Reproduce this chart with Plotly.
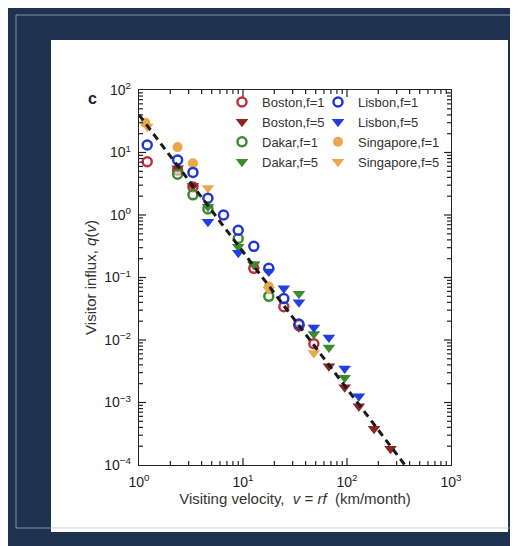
import plotly.graph_objects as go

# ---------------- data ----------------
boston_f1_v = [1.2, 2.35, 3.3, 12.7, 24.7, 34.5, 48]
boston_f1_q = [7.1, 5.2, 2.8, 0.14, 0.034, 0.017, 0.0087]

boston_f5_v = [2.35, 3.3, 12.7, 34.5, 67, 95, 130, 182, 262]
boston_f5_q = [5.6, 2.9, 0.16, 0.016, 0.0038, 0.00175, 0.00087, 0.00038, 0.000182]

dakar_f1_v = [2.35, 3.3, 4.6, 9.0, 17.7]
dakar_f1_q = [4.5, 2.1, 1.25, 0.42, 0.05]

dakar_f5_v = [4.6, 9.0, 12.7, 34.5, 48, 67, 95]
dakar_f5_q = [1.35, 0.31, 0.165, 0.055, 0.0125, 0.0076, 0.0025]

lisbon_f1_v = [1.2, 2.35, 3.3, 4.6, 6.5, 9.0, 12.7, 17.7, 24.7, 34.5]
lisbon_f1_q = [13.2, 7.6, 4.8, 1.85, 1.0, 0.57, 0.315, 0.14, 0.046, 0.018]

lisbon_f5_v = [4.6, 9.0, 17.7, 24.7, 34.5, 48, 67, 95, 130]
lisbon_f5_q = [0.78, 0.25, 0.125, 0.067, 0.04, 0.0158, 0.011, 0.0035, 0.00126]

singapore_f1_v = [1.15, 2.35, 3.3, 17.7]
singapore_f1_q = [30, 12.2, 6.7, 0.072]

singapore_f5_v = [1.2, 4.6, 17.7, 48]
singapore_f5_q = [26, 2.7, 0.064, 0.0062]

fit_v = [1.0, 360]
fit_q = [40, 1e-4]

x_tickvals = [1, 10, 100, 1000]
x_ticktext = ["10<sup>0</sup>", "10<sup>1</sup>", "10<sup>2</sup>", "10<sup>3</sup>"]
y_tickvals = [1e-4, 1e-3, 1e-2, 1e-1, 1, 10, 100]
y_ticktext = ["10<sup>−4</sup>", "10<sup>−3</sup>", "10<sup>−2</sup>", "10<sup>−1</sup>",
              "10<sup>0</sup>", "10<sup>1</sup>", "10<sup>2</sup>"]
x_minor = [m * 10 ** e for e in range(0, 3) for m in range(2, 10)]
y_minor = [m * 10.0 ** e for e in range(-4, 2) for m in range(2, 10)]

x_range_log = [0, 3]
y_range_log = [-4, 2]

# ---------------- styling ----------------
FONT = "Liberation Sans"
NAVY = "#1f3350"
RED, DRED = "#c0303c", "#8e2424"
BLUE, BLUE_T = "#2236d0", "#1f3fe0"
GREEN = "#3d8b2f"
ORANGE = "#e9a84c"
AX = "#222222"

fig = go.Figure()


def ring(v, q, name, col, legend, rank):
    fig.add_trace(go.Scatter(
        x=v, y=q, mode="markers", name=name, legend=legend, legendrank=rank,
        legendgroup=name,
        marker=dict(symbol="circle", size=9, color="rgba(255,255,255,0.55)",
                    line=dict(color=col, width=2.5))))


def filled(v, q, name, col, legend, rank):
    fig.add_trace(go.Scatter(
        x=v, y=q, mode="markers", name=name, legend=legend, legendrank=rank,
        legendgroup=name,
        marker=dict(symbol="circle", size=10, color=col, line=dict(width=0))))


def tri(v, q, name, col, legend, rank):
    fig.add_trace(go.Scatter(
        x=v, y=q, mode="markers", name=name, legend=legend, legendrank=rank,
        legendgroup=name,
        marker=dict(symbol="triangle-down", size=11, color=col, line=dict(width=0))))


ring(boston_f1_v, boston_f1_q, "Boston,f=1", RED, "legend", 1)
tri(boston_f5_v, boston_f5_q, "Boston,f=5", DRED, "legend", 2)
ring(dakar_f1_v, dakar_f1_q, "Dakar,f=1", GREEN, "legend", 3)
tri(dakar_f5_v, dakar_f5_q, "Dakar,f=5", GREEN, "legend", 4)
filled(singapore_f1_v, singapore_f1_q, "Singapore,f=1", ORANGE, "legend2", 3)
tri(singapore_f5_v, singapore_f5_q, "Singapore,f=5", ORANGE, "legend2", 4)
ring(lisbon_f1_v, lisbon_f1_q, "Lisbon,f=1", BLUE, "legend2", 1)
tri(lisbon_f5_v, lisbon_f5_q, "Lisbon,f=5", BLUE_T, "legend2", 2)

fig.add_trace(go.Scatter(x=fit_v, y=fit_q, mode="lines", showlegend=False,
                         line=dict(color="#1a1a1a", width=3, dash="7px,5px")))

# plot area in px: x 131..443, y 82..457
L, R, T, B = 131, 443, 82, 457
W, H = R - L, B - T
FW, FH = 518, 546


def px(x):
    return (x - L) / W


def py(y):
    return (B - y) / H


# white paper; navy surround drawn as strips that never cover the plot area
PL, PR, PT, PB = 43, 500, 32, 524
strip = dict(type="rect", xref="paper", yref="paper", line=dict(width=0),
             fillcolor=NAVY, layer="below")
shapes = [
    dict(strip, x0=px(0), x1=px(FW), y0=py(PT), y1=py(0)),
    dict(strip, x0=px(0), x1=px(FW), y0=py(FH), y1=py(PB)),
    dict(strip, x0=px(0), x1=px(PL), y0=py(PB), y1=py(PT)),
    dict(strip, x0=px(PR), x1=px(FW), y0=py(PB), y1=py(PT)),
    dict(type="rect", xref="paper", yref="paper", x0=px(8), x1=px(513), y0=py(520), y1=py(7),
         line=dict(color="rgba(170,190,200,0.7)", width=1), fillcolor="rgba(0,0,0,0)",
         layer="below"),
]

# inward tick marks on all four sides, placed through the axis scales
MAJ, MIN = 7, 4   # tick lengths in px


def xticks(vals, n):
    out = []
    for v in vals:
        for a, b in ((0, n / H), (1 - n / H, 1)):
            out.append(dict(type="line", xref="x", yref="paper", x0=v, x1=v, y0=a, y1=b,
                            line=dict(color=AX, width=1.2), layer="above"))
    return out


def yticks(vals, n):
    out = []
    for v in vals:
        for a, b in ((0, n / W), (1 - n / W, 1)):
            out.append(dict(type="line", xref="paper", yref="y", x0=a, x1=b, y0=v, y1=v,
                            line=dict(color=AX, width=1.2), layer="above"))
    return out


shapes += xticks(x_tickvals[1:-1], MAJ) + xticks(x_minor, MIN)
shapes += yticks(y_tickvals[1:-1], MAJ) + yticks(y_minor, MIN)

axis_style = dict(type="log", showline=True, linecolor=AX, linewidth=1.3, mirror=True,
                  ticks="", showgrid=False, zeroline=False,
                  tickfont=dict(family=FONT, size=14, color="#222"))

fig.update_layout(
    width=FW, height=FH,
    margin=dict(l=L, r=FW - R, t=T, b=FH - B),
    paper_bgcolor="white", plot_bgcolor="white",
    font=dict(family=FONT, color="#333"),
    shapes=shapes,
    xaxis=dict(axis_style, range=x_range_log, tickmode="array", tickvals=x_tickvals,
               ticktext=x_ticktext, ticklabelstandoff=4,
               title=dict(text="Visiting velocity,  <i>v</i> = <i>rf</i>  (km/month)",
                          font=dict(family=FONT, size=15, color="#333"), standoff=4)),
    yaxis=dict(axis_style, range=y_range_log, tickmode="array", tickvals=y_tickvals,
               ticktext=y_ticktext, ticklabelstandoff=4,
               title=dict(text="Visitor influx, <i>q</i>(<i>v</i>)",
                          font=dict(family=FONT, size=15, color="#333"), standoff=4)),
    legend=dict(x=px(214), y=py(79), xanchor="left", yanchor="top",
                bgcolor="rgba(0,0,0,0)", borderwidth=0, tracegroupgap=0,
                font=dict(family=FONT, size=13, color="#333"), itemwidth=30),
    legend2=dict(x=px(310), y=py(79), xanchor="left", yanchor="top",
                 bgcolor="rgba(0,0,0,0)", borderwidth=0, tracegroupgap=0,
                 font=dict(family=FONT, size=13, color="#333"), itemwidth=30),
    annotations=[dict(text="<b>c</b>", x=px(78), y=py(80), xref="paper", yref="paper",
                      showarrow=False, font=dict(family=FONT, size=16, color="#222"))],
)

fig.write_html("out.html")
